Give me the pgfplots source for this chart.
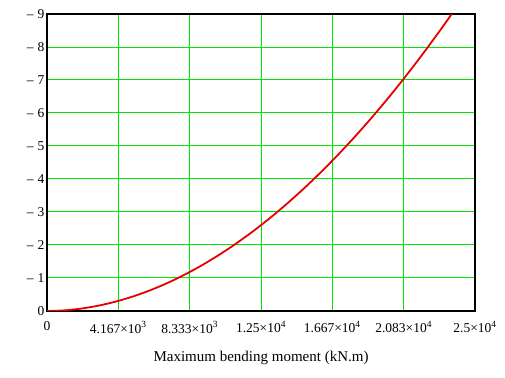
\documentclass[border=0pt]{standalone}
\usepackage{fontspec}
\setmainfont{Liberation Serif}
\usepackage{pgfplots}
\pgfplotsset{compat=1.18}
\definecolor{gridgreen}{RGB}{0,230,0}
\definecolor{curvered}{RGB}{230,0,0}
\begin{document}
\begin{tikzpicture}
\begin{axis}[
  scale only axis,
  width=428pt, height=297pt,
  xmin=0, xmax=25000, ymin=0, ymax=9,
  xtick={0,4167,8333,12500,16667,20833,25000},
  xticklabels={0,4.167×10\textsuperscript{3},8.333×10\textsuperscript{3},1.25×10\textsuperscript{4},1.667×10\textsuperscript{4},2.083×10\textsuperscript{4},2.5×10\textsuperscript{4}},
  ytick={0,1,2,3,4,5,6,7,8,9},
  yticklabels={0,–\hspace{4pt}1,–\hspace{4pt}2,–\hspace{4pt}3,–\hspace{4pt}4,–\hspace{4pt}5,–\hspace{4pt}6,–\hspace{4pt}7,–\hspace{4pt}8,–\hspace{4pt}9},
  scaled x ticks=false,
  major tick length=0pt,
  grid=major,
  major grid style={gridgreen, line width=1pt},
  axis line style={black, line width=1.3pt},
  tick label style={font=\fontsize{13.5}{15}\selectfont},
  xticklabel style={yshift=-7pt},
  yticklabel style={xshift=1pt},
  xlabel={Maximum bending moment (kN.m)},
  xlabel style={font=\fontsize{15}{17}\selectfont, yshift=-11pt},
  clip=true,
]
\addplot[curvered, line width=1.8pt, smooth] coordinates {
(0,0) (1000,0.0190) (2000,0.0733) (3000,0.1614) (4000,0.2826) (5000,0.4365)
(6000,0.6227) (7000,0.8407) (8000,1.0905) (9000,1.3717) (10000,1.6843)
(11000,2.0279) (12000,2.4025) (13000,2.8078) (14000,3.2440) (15000,3.7105)
(16000,4.2075) (17000,4.7351) (18000,5.2925) (19000,5.8802) (20000,6.4985)
(21000,7.1463) (22000,7.8241) (23000,8.5314) (23600,8.9723) (23650,9.01)
};
\coordinate (ll) at (rel axis cs:0,0);
\coordinate (ur) at (rel axis cs:1,1);
\end{axis}
\pgfresetboundingbox
\path ([shift={(-47pt,-67pt)}]ll) rectangle ([shift={(30pt,14pt)}]ur);
\end{tikzpicture}
\end{document}
